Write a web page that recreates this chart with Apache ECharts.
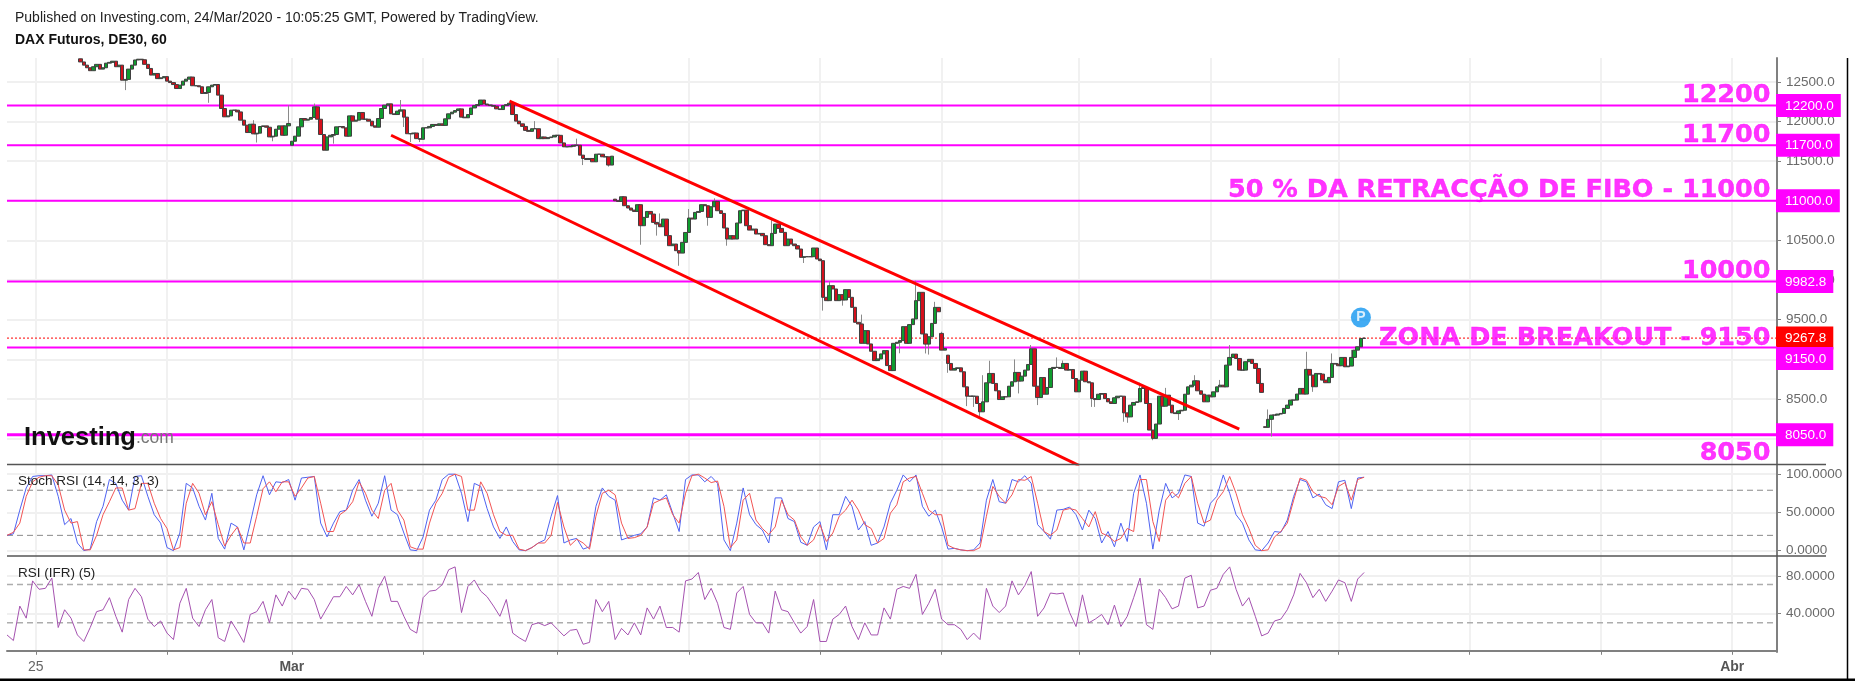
<!DOCTYPE html>
<html><head><meta charset="utf-8">
<style>html,body{margin:0;padding:0;background:#fff}#c{width:1855px;height:681px}</style>
<script src="https://cdn.jsdelivr.net/npm/echarts@6/dist/echarts.min.js"></script>
</head><body><div id="c"></div>
<script>
const closes=[12750,12710,12677,12640,12690,12720,12660,12677,12735,12745,12760,12690,12710,12520,12530,12660,12710,12775,12785,12778,12720,12668,12585,12605,12540,12550,12565,12508,12490,12465,12415,12458,12508,12533,12560,12450,12450,12437,12353,12365,12437,12458,12466,12332,12163,12058,12070,12142,12142,12120,12016,11953,11860,11965,11843,11852,11936,11944,11927,11805,11814,11902,11944,11826,11944,11974,11750,11814,11932,12037,12016,12028,12050,12184,12028,11835,11637,11805,11826,11835,11932,11936,11919,11814,12070,12003,12016,12113,12028,12028,12003,11944,11927,12037,12163,12205,12222,12096,12087,12130,12146,12054,11845,11845,11854,11783,11775,11920,11920,11937,11962,11950,11970,11950,12033,12096,12117,12137,12158,12054,12046,12087,12170,12200,12212,12270,12220,12208,12200,12192,12158,12150,12200,12212,12230,12087,12004,11970,11937,11887,11875,11908,11908,11783,11804,11783,11796,11804,11825,11825,11729,11680,11680,11687,11700,11700,11575,11533,11520,11533,11491,11587,11587,11554,11554,11450,11562,11000,10992,11050,10937,10908,10882,10865,10950,10685,10790,10865,10832,10727,10706,10672,10769,10560,10433,10454,10370,10340,10475,10600,10782,10769,10853,10865,10950,10937,10790,10924,10992,10874,10840,10656,10517,10559,10517,10719,10874,10882,10685,10630,10643,10580,10588,10559,10446,10433,10588,10706,10651,10601,10433,10517,10454,10433,10391,10286,10294,10294,10294,10404,10265,10244,9782,9740,9929,9887,9740,9816,9748,9879,9782,9656,9467,9446,9202,9362,9194,9102,8984,9005,9068,9110,8921,8858,9202,9215,9236,9412,9202,9438,9509,9740,9845,9320,9192,9285,9453,9655,9600,9116,9137,8948,8864,8885,8893,8843,8653,8535,8535,8535,8443,8338,8464,8704,8822,8696,8603,8493,8527,8527,8661,8717,8835,8726,8788,8864,8935,9133,8661,8518,8771,8560,8645,8885,8898,8898,8885,8948,8864,8872,8758,8590,8737,8851,8717,8704,8505,8493,8560,8569,8505,8464,8443,8515,8535,8535,8325,8274,8422,8456,8464,8632,8645,8443,8108,8003,8184,8535,8409,8548,8422,8325,8316,8350,8358,8560,8653,8674,8729,8603,8560,8464,8548,8527,8590,8653,8674,8653,8927,9024,9066,9011,8864,8864,8970,9000,8948,8885,8696,8583,8142,8243,8297,8297,8310,8318,8381,8423,8486,8486,8562,8633,8562,8873,8801,8654,8822,8814,8738,8705,8772,8948,8940,8919,9024,8906,8915,9024,9116,9158,9263,9268];
const gapOpens=[[0,12790],[66,11700],[167,11020],[269,9327],[271,9053],[370,8150]];
const wicks=[[14,12395],[40,12235],[54,12016],[55,11734],[60,11750],[65,12205],[73,12226],[79,11720],[100,12270],[101,11930],[103,11740],[106,11740],[142,12004],[155,11783],[157,11450],[165,11430],[175,10445],[180,10560],[181,10840],[187,10180],[190,10895],[196,10685],[198,11030],[202,10433],[216,10756],[226,10215],[232,9614],[234,9984],[238,9677],[244,9564],[256,9076],[258,9387],[261,9992],[265,9060],[267,9725],[264,9074],[269,9347],[271,8830],[277,8410],[279,8400],[281,8255],[282,8800],[284,8982],[292,8999],[293,8570],[297,9180],[299,8423],[305,9024],[307,8985],[316,8400],[317,8400],[326,8213],[327,8200],[331,8705],[335,7980],[339,8640],[343,8235],[348,8800],[356,8740],[359,9180],[371,8368],[372,8025],[383,9095],[385,8590],[391,9074],[397,9120]];
const firstIdx=23;
const stochBlue=[20,22,53,82,97,98,98,99,71,34,42,10,0,2,38,58,93,88,66,53,97,98,71,47,36,4,0,23,88,82,58,40,75,16,2,36,31,1,36,73,98,73,90,89,93,66,95,96,97,36,18,36,51,53,79,93,66,45,62,98,53,47,23,1,0,18,53,66,93,100,100,75,38,88,84,55,31,16,31,12,1,0,4,10,14,45,72,10,14,16,2,5,58,82,71,66,14,17,20,22,31,69,66,73,49,25,93,99,99,90,97,88,14,0,36,82,47,34,27,10,69,69,42,38,11,7,31,38,1,47,47,71,58,27,38,7,10,31,62,79,99,90,99,58,45,53,31,2,3,1,0,1,10,66,93,64,62,93,90,98,88,34,25,15,53,54,57,47,27,53,42,10,25,5,36,12,75,99,62,2,53,88,69,75,99,97,36,32,62,71,99,75,47,36,14,1,0,10,25,24,40,71,93,90,69,74,60,55,90,92,55,95,96];
const stochRed=[20,24,36,71,90,96,98,98,86,53,36,38,1,1,20,47,64,82,82,53,55,88,88,62,42,29,1,4,62,88,75,47,64,34,6,20,31,10,10,45,81,90,77,90,90,71,82,95,97,62,25,25,47,53,64,90,75,53,42,79,88,53,40,5,2,2,36,62,75,96,100,97,53,53,90,75,47,25,20,20,2,0,4,10,10,20,63,31,7,15,10,2,45,75,79,73,36,16,17,20,31,62,66,69,47,36,75,98,100,95,89,91,58,4,14,66,75,40,29,21,31,66,47,40,18,7,14,34,12,23,45,53,66,53,34,29,10,16,49,60,90,95,97,75,53,47,47,7,3,1,0,0,4,45,84,71,62,73,93,92,97,62,25,20,27,53,55,53,42,31,51,23,19,12,16,29,25,93,93,38,12,66,77,69,88,97,62,36,40,66,77,97,75,47,29,7,0,1,18,25,36,66,95,92,77,71,69,60,84,89,66,93,96];
const rsiVals=[17,11,48,35,75,66,67,78,25,44,35,17,10,25,42,44,57,37,20,55,67,58,34,26,32,19,12,51,67,35,26,44,55,14,10,32,21,9,39,42,53,30,60,48,64,55,67,66,55,34,46,58,58,69,60,71,53,37,67,80,53,53,37,23,19,57,64,65,71,87,90,41,69,76,64,58,48,37,55,19,14,10,28,30,27,30,23,16,22,23,7,9,55,42,53,12,24,17,30,17,46,34,48,25,25,20,75,77,84,55,67,51,25,23,62,69,39,30,30,19,64,44,42,30,19,26,55,10,10,34,39,48,26,12,30,17,17,46,34,66,69,67,82,39,51,66,34,28,28,23,12,19,12,67,48,41,48,75,60,70,85,37,46,62,61,62,41,26,60,30,34,39,28,49,26,37,57,78,28,23,66,57,45,48,78,81,46,48,65,67,82,90,66,48,57,37,16,19,32,34,44,60,83,73,57,66,53,64,76,73,53,77,84];
const indicatorStep=2;
const levels=[12200,11700,11000,9982.8,9150,8050];
const lastPrice=9267.8;
const tagTexts=['12200.0','11700.0','11000.0','9982.8','9267.8','9150.0','8050.0'];
const tagAnchors=[12200,11700,11000,9982.8,9267.8,9012,8050];
const priceTicks=[8000,8500,9000,9500,10000,10500,11000,11500,12000,12500];
const stochTicks=[0,50,100];
const rsiTicks=[40,80];
const stochBands=[20,79];
const rsiBands=[30,71];
const upperChannel=[[157,12256],[385,8120]];
const lowerChannel=[[120,11826],[335,7660]];
const noteTexts=['12200','11700','50 % DA RETRACÇÃO DE FIBO - 11000','10000','ZONA DE BREAKOUT - 9150','8050'];
const notePrices=[12329,11824,11129,10113,9266,7810];
const pinPoint=[423,9526];
const dayTicks=[9,50,89,130,172,213,254,292,335,376,416,457,498,539];
const dayLabels={9:'25',89:'Mar',539:'Abr'};

const SLOTS=554, PMIN=7680, PMAX=12800;
const cats=Array.from({length:SLOTS},(_,i)=>String(i));
const opens=closes.map((c,k)=>k?closes[k-1]:c);
gapOpens.forEach(([k,v])=>opens[k]=v);
const lows=closes.map((c,k)=>Math.min(c,opens[k]));
const highs=closes.map((c,k)=>Math.max(c,opens[k]));
wicks.forEach(([k,v])=>{if(v<lows[k])lows[k]=v;if(v>highs[k])highs[k]=v;});
const pad=Array(firstIdx).fill('-');
const bodies=pad.concat(closes.map((c,k)=>[opens[k],c,Math.min(c,opens[k]),Math.max(c,opens[k])]));
const shadow=pad.concat(closes.map((c,k)=>[c,c,lows[k],highs[k]]));
const full=(arr)=>arr.map((v,i)=>[String(i*indicatorStep),v]);
const isTick=i=>dayTicks.includes(i);
const FF='"Liberation Sans",Arial,sans-serif';
const split={show:true,interval:isTick,lineStyle:{color:'#f1f1f1',width:2}};
const ySplit={show:true,lineStyle:{color:'#f0f0f0',width:2}};
const xb={type:'category',data:cats,boundaryGap:false,axisLine:{show:false},axisTick:{show:false},axisLabel:{show:false},splitLine:split};
const hline=(v,ci,color,width,type)=>({type:'line',xAxisIndex:ci,yAxisIndex:ci===0?1:ci+1,data:[['0',v],[String(SLOTS-1),v]],symbol:'none',silent:true,lineStyle:{color,width,type},z:3});
const series=[
 {type:'candlestick',xAxisIndex:0,yAxisIndex:0,data:shadow,barWidth:1,itemStyle:{color:'#8a8a8a',color0:'#8a8a8a',borderColor:'#8a8a8a',borderColor0:'#8a8a8a',borderWidth:1},z:4},
 {type:'candlestick',xAxisIndex:0,yAxisIndex:0,data:bodies,barWidth:4,itemStyle:{color:'#0f9c2e',color0:'#d4101c',borderColor:'#404040',borderColor0:'#404040',borderWidth:1},z:5},
 {type:'line',xAxisIndex:2,yAxisIndex:3,data:full(rsiVals),symbol:'none',lineStyle:{color:'#a552b0',width:1},z:5},
 {type:'line',xAxisIndex:1,yAxisIndex:2,data:full(stochBlue),symbol:'none',lineStyle:{color:'#4f63f2',width:1},z:5},
 {type:'line',xAxisIndex:1,yAxisIndex:2,data:full(stochRed),symbol:'none',lineStyle:{color:'#f25454',width:1},z:6},
 {type:'line',xAxisIndex:0,yAxisIndex:0,data:upperChannel.map(p=>[String(p[0]),p[1]]),symbol:'none',lineStyle:{color:'#ff0000',width:3},z:7},
 {type:'line',xAxisIndex:0,yAxisIndex:0,data:lowerChannel.map(p=>[String(p[0]),p[1]]),symbol:'none',lineStyle:{color:'#ff0000',width:3},z:7},
 {type:'scatter',xAxisIndex:0,yAxisIndex:0,data:[[String(pinPoint[0]),pinPoint[1]]],symbolSize:20,itemStyle:{color:'#1296f0'},z:9,
  label:{show:true,position:'inside',formatter:'P',color:'#fff',fontWeight:'bold',fontSize:14,fontFamily:FF}},
 {type:'scatter',xAxisIndex:0,yAxisIndex:0,symbolSize:0,z:10,clip:false,
  data:noteTexts.map((t,i)=>({value:[String(551),notePrices[i]],name:t})),
  label:{show:true,position:'left',distance:0,formatter:p=>p.name,color:'#ff00ff',fontWeight:'bold',fontSize:25.5,fontFamily:'"DejaVu Sans",sans-serif',textBorderColor:'#ff00ff',textBorderWidth:0.4}}
];
levels.forEach(v=>series.push(hline(v,0,'#ff00ff',v===8050?3:2,'solid')));
series.push(hline(lastPrice,0,'#ff0000',1,[2,2]));
stochBands.forEach(v=>series.push(hline(v,1,'#8a8a8a',1,[6,4])));
rsiBands.forEach(v=>series.push(hline(v,2,'#adadad',1.5,[6,4])));
const tagRich={m:{backgroundColor:'#ff00ff',color:'#fff',padding:[5,7,4,9],fontSize:13.5,fontFamily:FF},r:{backgroundColor:'#ff0000',color:'#fff',padding:[5,7,4,9],fontSize:13.5,fontFamily:FF}};
const valueLabel=(dec)=>({show:true,color:'#6a6a6a',fontSize:13.5,fontFamily:FF,margin:9,formatter:v=>Number(v).toFixed(dec)});
const option={animation:false,backgroundColor:'#fff',
 grid:[{left:7,right:78,top:58,height:406},{left:7,right:78,top:465,height:91},{left:7,right:78,top:556,height:96}],
 xAxis:[Object.assign({},xb,{gridIndex:0}),Object.assign({},xb,{gridIndex:1}),Object.assign({},xb,{gridIndex:2,
   axisLine:{show:true,lineStyle:{color:'#808080',width:2}},
   axisTick:{show:true,interval:isTick,length:4,lineStyle:{color:'#808080',width:1}},
   axisLabel:{show:true,interval:i=>i in dayLabels,margin:8,fontSize:14,fontFamily:FF,color:'#666',
     formatter:(v,i)=>{const t=dayLabels[i];return t==='25'?t:`{b|${t}}`},rich:{b:{fontWeight:'bold',fontSize:14,color:'#555',fontFamily:FF}}}})],
 yAxis:[
  {gridIndex:0,type:'value',position:'right',min:PMIN,max:PMAX,axisLine:{show:true,onZero:false,lineStyle:{color:'#808080',width:2}},
   axisTick:{show:true,customValues:priceTicks,length:4,lineStyle:{color:'#808080'}},axisLabel:Object.assign(valueLabel(1),{customValues:priceTicks}),splitLine:ySplit},
  {gridIndex:0,type:'value',position:'right',min:PMIN,max:PMAX,axisLine:{show:false},axisTick:{show:false},splitLine:{show:false},
   axisLabel:{show:true,margin:-1,customValues:tagAnchors,rich:tagRich,fontFamily:FF,
     formatter:v=>{const t=tagTexts[tagAnchors.indexOf(v)];return v===lastPrice?`{r|${t}}`:`{m|${t}}`}}},
  {gridIndex:1,type:'value',position:'right',min:-7,max:112,axisLine:{show:true,onZero:false,lineStyle:{color:'#808080',width:2}},
   axisTick:{show:true,customValues:stochTicks,length:4,lineStyle:{color:'#808080'}},axisLabel:Object.assign(valueLabel(4),{customValues:stochTicks}),splitLine:ySplit},
  {gridIndex:2,type:'value',position:'right',min:-1.3,max:101.7,axisLine:{show:true,onZero:false,lineStyle:{color:'#808080',width:2}},
   axisTick:{show:true,customValues:rsiTicks,length:4,lineStyle:{color:'#808080'}},axisLabel:Object.assign(valueLabel(4),{customValues:rsiTicks}),splitLine:ySplit}
 ],
 series,
 graphic:[
  {type:'text',left:15,top:11,z:20,style:{text:'Published on Investing.com, 24/Mar/2020 - 10:05:25 GMT, Powered by TradingView.',font:'14px "Liberation Sans",Arial',fill:'#222'}},
  {type:'text',left:15,top:33,z:20,style:{text:'DAX Futuros, DE30, 60',font:'bold 14px "Liberation Sans",Arial',fill:'#111'}},
  {type:'text',left:18,top:474,z:20,style:{text:'Stoch RSI (14, 14, 3, 3)',font:'13.5px "Liberation Sans",Arial',fill:'#222'}},
  {type:'text',left:18,top:566,z:20,style:{text:'RSI (IFR) (5)',font:'13.5px "Liberation Sans",Arial',fill:'#222'}},
  {type:'text',left:24,top:425,z:20,style:{rich:{a:{font:'bold 25.5px "Liberation Sans",Arial',fill:'#111'},b:{font:'17.5px "Liberation Sans",Arial',fill:'#777'}},text:'{a|Investing}{b|.com}'}},
  {type:'line',z:15,shape:{x1:7,y1:464.5,x2:1826,y2:464.5},style:{stroke:'#555',lineWidth:1.5}},
  {type:'line',z:15,shape:{x1:7,y1:556,x2:1826,y2:556},style:{stroke:'#555',lineWidth:1.5}},
  {type:'line',z:15,shape:{x1:1847.5,y1:58,x2:1847.5,y2:681},style:{stroke:'#000',lineWidth:1.5}},
  {type:'line',z:15,shape:{x1:0,y1:680,x2:1855,y2:680},style:{stroke:'#000',lineWidth:3}}
 ]};
echarts.init(document.getElementById('c'),null,{renderer:'canvas'}).setOption(option);
</script></body></html>
